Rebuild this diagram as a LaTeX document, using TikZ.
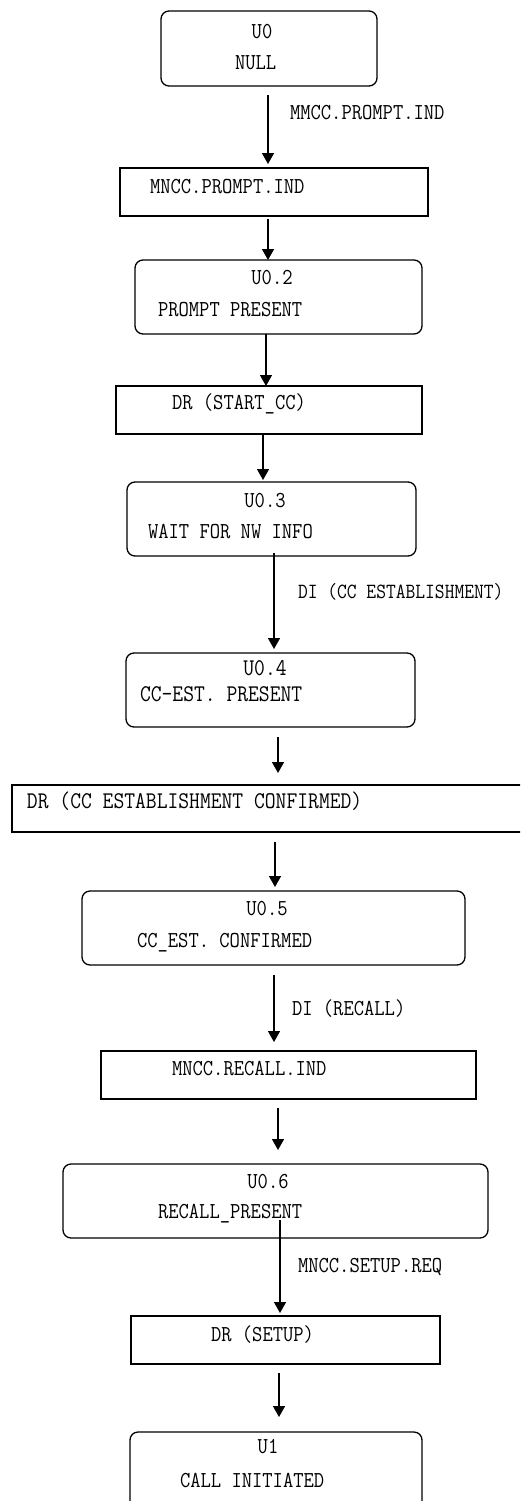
\documentclass[tikz,border=0pt]{standalone}
\usetikzlibrary{arrows.meta}
\newcommand\tallt[1]{\scalebox{1}[1.14]{#1}}
\begin{document}
\begin{tikzpicture}[x=1pt,y=-1pt,
  box/.style={draw,line width=1.3pt,inner sep=0pt,outer sep=0pt},
  rbox/.style={box,rounded corners=8pt},
  txt/.style={inner sep=0pt,outer sep=0pt,font=\ttfamily\fontsize{20}{24}\selectfont},
  txtl/.style={txt,font=\ttfamily\fontsize{21}{25}\selectfont},
  txts/.style={txt,font=\ttfamily\fontsize{19}{23}\selectfont},
  arr/.style={line width=1.5pt,-{Triangle[width=12pt,length=11pt]}}]
\useasboundingbox (0,0) rectangle (520,1501);
\clip (0,0) rectangle (520,1501);
% boxes
\node[rbox,minimum width=216pt,minimum height=75pt] (u0) at (269,48.5) {};
\node[box,minimum width=308pt,minimum height=48pt] (mp) at (274,192) {};
\node[rbox,minimum width=287pt,minimum height=74pt] (u02) at (278.5,297) {};
\node[box,minimum width=306pt,minimum height=48pt] (drs) at (269,410) {};
\node[rbox,minimum width=289pt,minimum height=74pt] (u03) at (271.5,519) {};
\node[rbox,minimum width=289pt,minimum height=74pt] (u04) at (270.5,690) {};
\node[box,minimum width=528pt,minimum height=47pt] (drc) at (276,808.5) {};
\node[rbox,minimum width=383pt,minimum height=74pt] (u05) at (273.5,928) {};
\node[box,minimum width=375pt,minimum height=48pt] (mr) at (288.5,1075) {};
\node[rbox,minimum width=425pt,minimum height=74pt] (u06) at (275.5,1201) {};
\node[box,minimum width=309pt,minimum height=48pt] (drsu) at (285.5,1340) {};
\node[rbox,minimum width=292pt,minimum height=80pt] (u1) at (276,1472) {};
% texts
\node[txt,anchor=base] (t0a) at (262,38.5) {\tallt{U0}};
\node[txt,anchor=base west] (t0b) at (235,70) {\tallt{NULL}};
\node[txt,anchor=base west] (l1) at (290,120) {\tallt{MMCC.PROMPT.IND}};
\node[txt,anchor=base west] (t1) at (150,193.5) {\tallt{MNCC.PROMPT.IND}};
\node[txt,anchor=base] (t2a) at (272,284) {\tallt{U0.2}};
\node[txt,anchor=base west] (t2b) at (158,316) {\tallt{PROMPT PRESENT}};
\node[txt,anchor=base west] (t3) at (172,409) {\tallt{DR (START\_CC)}};
\node[txt,anchor=base] (t4a) at (265,507) {\tallt{U0.3}};
\node[txt,anchor=base west] (t4b) at (148,538) {\tallt{WAIT FOR NW INFO}};
\node[txts,anchor=base west] (l5) at (298,598) {\tallt{DI (CC ESTABLISHMENT)}};
\node[txtl,anchor=base] (t6a) at (265,675) {\tallt{U0.4}};
\node[txtl,anchor=base west] (t6b) at (140,701) {\tallt{CC-EST. PRESENT}};
\node[txtl,anchor=base west] (t7) at (27,808) {\tallt{DR (CC ESTABLISHMENT CONFIRMED)}};
\node[txt,anchor=base] (t8a) at (267,915) {\tallt{U0.5}};
\node[txt,anchor=base west] (t8b) at (137,947) {\tallt{CC\_EST. CONFIRMED}};
\node[txt,anchor=base west] (l9) at (292,1015) {\tallt{DI (RECALL)}};
\node[txt,anchor=base west] (t9) at (172,1075) {\tallt{MNCC.RECALL.IND}};
\node[txt,anchor=base] (t10a) at (268,1188) {\tallt{U0.6}};
\node[txt,anchor=base west] (t10b) at (158,1218) {\tallt{RECALL\_PRESENT}};
\node[txt,anchor=base west] (l11) at (298,1272) {\tallt{MNCC.SETUP.REQ}};
\node[txt,anchor=base west] (t11) at (211,1341) {\tallt{DR (SETUP)}};
\node[txt,anchor=base] (t12a) at (268,1453) {\tallt{U1}};
\node[txt,anchor=base west] (t12b) at (180,1487) {\tallt{CALL INITIATED}};
% arrows
\draw[arr] ([xshift=-1pt,yshift=-9pt]u0.south) -- ([xshift=-6pt,yshift=4pt]mp.north);
\draw[arr] ([xshift=-6pt,yshift=-3pt]mp.south) -- ([xshift=-10.5pt]u02.north);
\draw[arr] ([xshift=-12.5pt]u02.south) -- ([xshift=-3pt]drs.north);
\draw[arr] ([xshift=-6pt]drs.south) -- ([xshift=-8.5pt,yshift=2pt]u03.north);
\draw[arr] ([xshift=2.5pt,yshift=3pt]u03.south) -- ([xshift=3.5pt,yshift=4pt]u04.north);
\draw[arr] ([xshift=7.5pt,yshift=-10pt]u04.south) -- ([xshift=2pt,yshift=12pt]drc.north);
\draw[arr] ([xshift=-1pt,yshift=-10pt]drc.south) -- ([xshift=1.5pt,yshift=4pt]u05.north);
\draw[arr] ([xshift=0.5pt,yshift=-10pt]u05.south) -- ([xshift=-14.5pt,yshift=9pt]mr.north);
\draw[arr] ([xshift=-10.5pt,yshift=-9pt]mr.south) -- ([xshift=2.5pt,yshift=14pt]u06.north);
\draw[arr] ([xshift=4.5pt,yshift=18pt]u06.south) -- ([xshift=-5.5pt,yshift=3pt]drsu.north);
\draw[arr] ([xshift=-6.5pt,yshift=-9pt]drsu.south) -- ([xshift=3pt,yshift=15pt]u1.north);
\end{tikzpicture}
\end{document}
